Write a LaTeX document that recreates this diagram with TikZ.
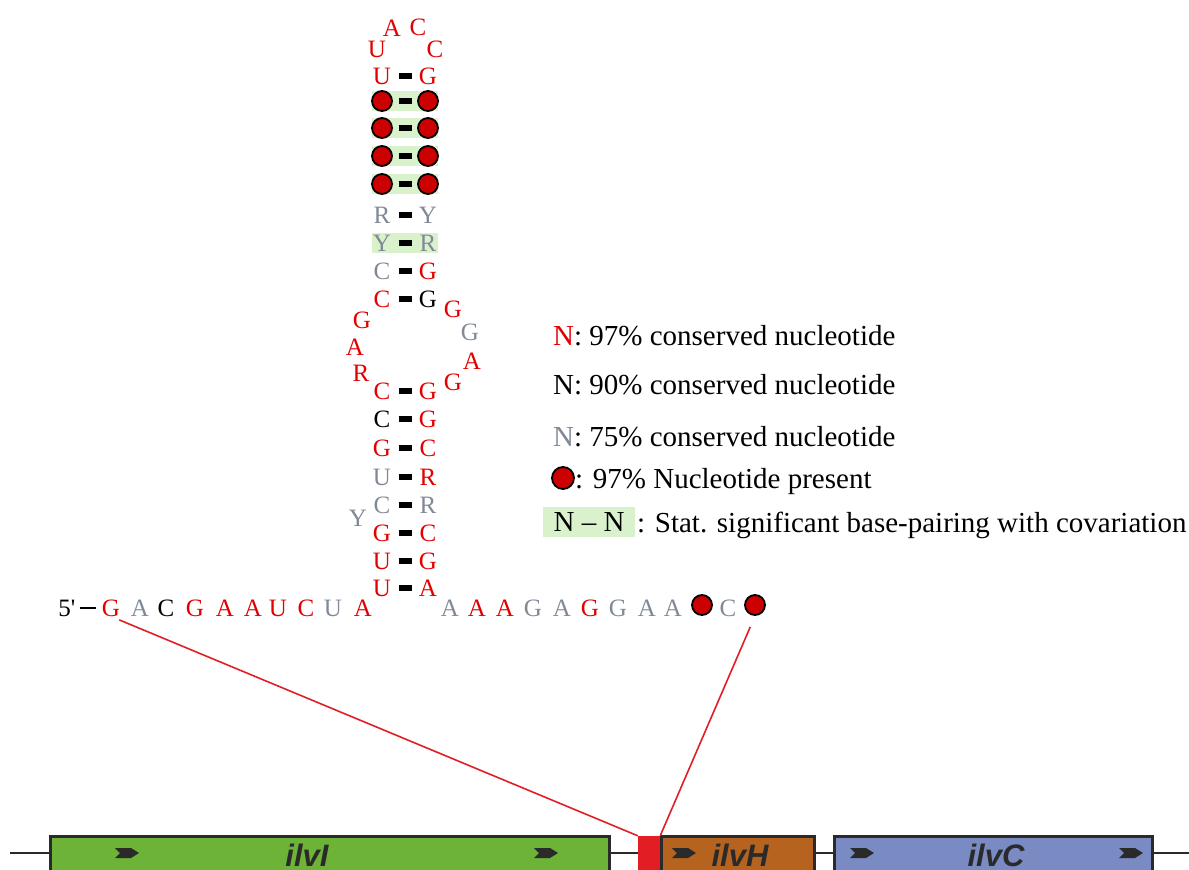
\documentclass[tikz,border=0pt]{standalone}
\usepackage{fontspec}
\setmainfont{Liberation Serif}
\newfontfamily\genefont{Liberation Sans}

\definecolor{ntred}{RGB}{226,0,0}
\definecolor{ntgray}{RGB}{128,138,150}
\definecolor{dotred}{RGB}{204,0,0}
\definecolor{pairgreen}{RGB}{218,242,204}
\definecolor{genedark}{RGB}{42,42,42}
\definecolor{ilvIgreen}{RGB}{109,179,55}
\definecolor{ilvHbrown}{RGB}{181,99,30}
\definecolor{ilvCblue}{RGB}{122,139,196}
\definecolor{rbsred}{RGB}{226,30,36}

\newcommand\ntsize{\fontsize{25}{25}\selectfont}
\newcommand\legsize{\fontsize{29}{29}\selectfont}
\newcommand\genesize{\genefont\bfseries\itshape\fontsize{31}{31}\selectfont}

\begin{document}
\begin{tikzpicture}
    [x=1pt,y=-1pt,
     nt/.style={inner sep=0pt,text height=16.5pt,text depth=0pt,font=\ntsize},
     ntdot/.style={circle,fill=dotred,draw=black,line width=1.8pt,minimum size=20pt,inner sep=0pt},
     bpbar/.style={line width=6pt,shorten >=16.5pt,shorten <=16.5pt},
     pairbg/.style={fill=pairgreen},
     leg/.style={inner sep=0pt,font=\legsize},
     gene/.style={draw=genedark,line width=3pt,minimum height=50pt,inner sep=0pt},
     genelab/.style={inner sep=0pt,font=\genesize,text=genedark},
     rbsline/.style={draw=rbsred,line width=1.6pt}]
    \useasboundingbox (0,0) rectangle (1189,870);

    % covariation boxes
    \foreach \y in {101,128,156,184,243}
      \fill[pairbg] (372,\y-10) rectangle (438,\y+10);

    % helix
    \foreach \i/\y/\a/\ac/\b/\bc in {1/76/U/ntred/G/ntred,
        6/215/R/ntgray/Y/ntgray, 7/243/Y/ntgray/R/ntgray,
        8/271/C/ntgray/G/ntred, 9/299/C/ntred/G/black,
        10/391/C/ntred/G/ntred, 11/419/C/black/G/ntred,
        12/448/G/ntred/C/ntred, 13/477/U/ntgray/R/ntred,
        14/505/C/ntgray/R/ntgray, 15/533/G/ntred/C/ntred,
        16/561/U/ntred/G/ntred, 17/588/U/ntred/A/ntred}
    {
      \node[nt,text=\ac] (L\i) at (382,\y) {\a};
      \node[nt,text=\bc] (R\i) at (428,\y) {\b};
    }
    \foreach \i/\y in {2/101,3/128,4/156,5/184}
    {
      \node[ntdot] (L\i) at (382,\y) {};
      \node[ntdot] (R\i) at (428,\y) {};
    }
    \foreach \i in {1,...,17}
      \draw[bpbar] (L\i.center) -- (R\i.center);

    % loops
    \node[nt,text=ntred] (h1) at (377,49) {U};
    \node[nt,text=ntred] (h2) at (392,28) {A};
    \node[nt,text=ntred] (h3) at (418,27) {C};
    \node[nt,text=ntred] (h4) at (435,49) {C};
    \node[nt,text=ntred] (il1) at (362,320) {G};
    \node[nt,text=ntred] (il2) at (355,347) {A};
    \node[nt,text=ntred] (il3) at (361,373) {R};
    \node[nt,text=ntred] (ir1) at (453,309) {G};
    \node[nt,text=ntgray] (ir2) at (470,332) {G};
    \node[nt,text=ntred] (ir3) at (472,361) {A};
    \node[nt,text=ntred] (ir4) at (453,382) {G};
    \node[nt,text=ntgray] (bY) at (358,518) {Y};

    % single strands
    \node[nt] (five) at (67,608) {5\textquotesingle};
    \foreach \i/\x/\a/\ac in {1/111/G/ntred, 2/140/A/ntgray, 3/166/C/black,
        4/195/G/ntred, 5/225/A/ntred, 6/253/A/ntred, 7/278/U/ntred,
        8/306/C/ntred, 9/333/U/ntgray, 10/363/A/ntred}
      \node[nt,text=\ac] (s\i) at (\x,608) {\a};
    \foreach \i/\x/\a/\ac in {1/450/A/ntgray, 2/477/A/ntred, 3/505/A/ntred,
        4/533/G/ntgray, 5/562/A/ntgray, 6/590/G/ntred, 7/618/G/ntgray,
        8/647/A/ntgray, 9/673/A/ntgray, 11/728/C/ntgray}
      \node[nt,text=\ac] (t\i) at (\x,608) {\a};
    \node[ntdot] (t10) at (702,605) {};
    \node[ntdot] (t12) at (755,605) {};
    \draw[line width=2.4pt,shorten <=4pt,shorten >=6pt] (five.east) -- (s1.west);

    % legend
    \node[leg,anchor=base west] (leg1) at (553,345) {\textcolor{ntred}{N}: 97\% conserved nucleotide};
    \node[leg,anchor=base west] (leg2) at (553,394) {N: 90\% conserved nucleotide};
    \node[leg,anchor=base west] (leg3) at (553,446) {\textcolor{ntgray}{N}: 75\% conserved nucleotide};
    \node[ntdot,minimum size=22pt] (legdot) at (563,478) {};
    \node[leg,anchor=base west] (leg4) at (575,488) {: 97\% Nucleotide present};
    \node[leg,fill=pairgreen,minimum width=92pt,minimum height=30pt] (legpair) at (589,522) {N -- N};
    \node[leg,anchor=base west] (leg5) at (637,532) {: Stat. significant base-pairing with covariation};

    % operon
    \coordinate (gl) at (10,853);
    \coordinate (gr) at (1189,853);
    \draw[genedark,line width=1.2pt] (gl) -- (gr);
    \node[gene,fill=ilvIgreen,minimum width=559pt] (ilvI) at (329.5,861) {};
    \node[gene,fill=ilvHbrown,minimum width=153pt] (ilvH) at (737.5,861) {};
    \node[gene,fill=ilvCblue,minimum width=318pt] (ilvC) at (993,861) {};
    \node[fill=rbsred,minimum width=22pt,minimum height=46pt,inner sep=0pt] (rbs) at (649,859) {};
    \foreach \x in {127,546,684,862,1131}
      \fill[genedark] (\x,853) ++(-12,-5) -- ++(16,0) -- ++(8,5) -- ++(-8,5)
        -- ++(-16,0) -- ++(5,-5) -- cycle;
    \node[genelab,anchor=base] (ilvIlab) at (307,866) {ilvI};
    \node[genelab,anchor=base] (ilvHlab) at (740,866) {ilvH};
    \node[genelab,anchor=base] (ilvClab) at (996,866) {ilvC};

    \draw[rbsline,shorten <=9pt] (s1.south) -- (rbs.north west);
    \draw[rbsline,shorten <=12pt] (t12.south) -- (rbs.north east);
  \end{tikzpicture}
\end{document}
